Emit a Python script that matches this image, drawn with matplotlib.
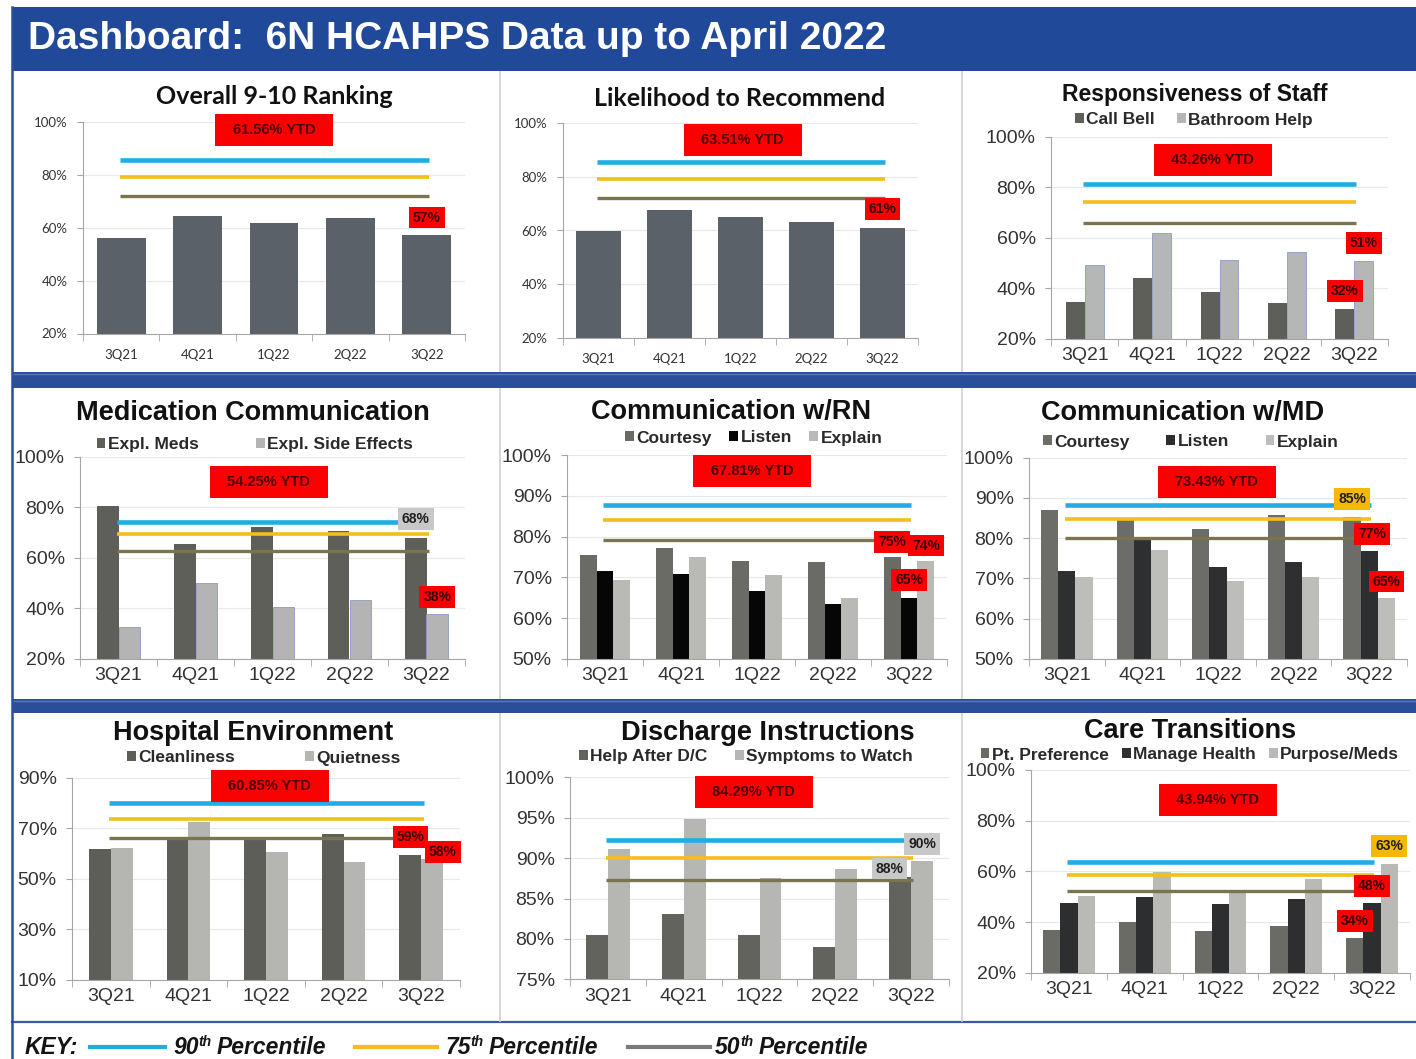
import matplotlib
matplotlib.use("Agg")
import numpy as np
import matplotlib.pyplot as plt
from matplotlib.patches import Patch, Rectangle
from matplotlib.lines import Line2D

W, H = 1416, 1059

quarters = ["3Q21", "4Q21", "1Q22", "2Q22", "3Q22"]
pct_names = ["90th", "75th", "50th"]

# values (percent), percentile targets as [90th, 75th, 50th]
overall = [55.9, 64.5, 61.8, 63.7, 57.1]
overall_pct = [85.6, 79.3, 71.8]
recommend = [59.8, 67.6, 65.1, 63.0, 61.0]
recommend_pct = [85.4, 79.3, 72.0]
call_bell = [34.4, 44.2, 38.5, 34.0, 31.8]
bathroom_help = [49.3, 61.7, 51.0, 54.2, 50.8]
responsive_pct = [81.4, 74.3, 65.7]
expl_meds = [80.5, 65.5, 72.2, 70.7, 68.0]
side_effects = [32.7, 50.0, 40.6, 43.1, 37.6]
med_pct = [74.3, 69.3, 62.8]
rn_courtesy = [75.6, 77.1, 73.9, 73.7, 75.0]
rn_listen = [71.6, 70.9, 66.7, 63.4, 65.0]
rn_explain = [69.3, 75.0, 70.6, 64.9, 74.0]
rn_pct = [87.7, 84.0, 79.3]
md_courtesy = [87.1, 84.5, 82.2, 85.7, 85.3]
md_listen = [71.8, 79.6, 72.7, 74.1, 76.8]
md_explain = [70.4, 77.0, 69.3, 70.4, 65.0]
md_pct = [88.2, 84.7, 80.0]
cleanliness = [62.0, 66.0, 65.6, 67.8, 59.4]
quietness = [62.2, 72.6, 60.7, 56.8, 58.0]
env_pct = [79.8, 73.8, 66.1]
help_after = [80.5, 83.1, 80.5, 79.0, 87.7]
symptoms = [91.1, 94.8, 87.5, 88.6, 89.6]
discharge_pct = [92.3, 90.0, 87.25]
pt_pref = [36.9, 40.0, 36.3, 38.4, 33.6]
manage_health = [47.5, 50.0, 47.1, 49.2, 47.6]
purpose_meds = [50.2, 59.9, 52.4, 56.9, 63.0]
care_pct = [63.7, 58.7, 52.1]

PCT_COLORS = ["#1fade4", "#f5be1b", "#7b744f"]
PCT_LW = [3.3, 2.6, 2.4]
BOX = {"red": "#fb0000", "grey": "#c8c8c8", "yellow": "#f6b800"}
SANS = ["Liberation Sans", "DejaVu Sans"]
CAL = ["Lato", "DejaVu Sans"]

fig = plt.figure(figsize=(W / 100, H / 100), dpi=100)
fig.patch.set_facecolor("white")


def fx(x):
    return x / W


def fy(y):
    return 1 - y / H


def panel(box, title, title_xy, series, colors, ylim, ystep, pct, ytd, ytd_pos,
          callouts, width, names=None, legend_xy=None, colspace=1.0,
          small=False, title_size=19.5, edges=None):
    l, t, r, b = box
    ax = fig.add_axes([fx(l), fy(b), (r - l) / W, (b - t) / H])
    x = np.arange(len(quarters))
    n = len(series)
    offs = [(i - (n - 1) / 2) * width for i in range(n)]
    for i, vals in enumerate(series):
        ec = edges[i] if edges else "none"
        ax.bar(x + offs[i], np.array(vals) - ylim[0], width, bottom=ylim[0],
               color=colors[i], edgecolor=ec, linewidth=0.6, zorder=2,
               label=names[i] if names else None)
    for k, v in enumerate(pct):
        ax.hlines(v, -0.02, 4.03, color=PCT_COLORS[k], lw=PCT_LW[k], zorder=3)

    ax.set_xlim(-0.5, 4.5)
    ax.set_ylim(*ylim)
    yt = np.arange(ylim[0], ylim[1] + 0.1, ystep)
    ax.set_yticks(yt)
    fam = CAL if small else SANS
    fs = 9.5 if small else 14
    ax.set_yticklabels([f"{v:g}%" for v in yt], family=fam, fontsize=fs, color="#333333")
    ax.set_xticks(x)
    ax.set_xticklabels(quarters, family=fam, fontsize=fs, color="#333333")
    ax.set_xticks(np.arange(-0.5, 5, 1), minor=True)
    ax.tick_params(axis="x", which="major", length=0, pad=11 if small else 6)
    ax.tick_params(axis="x", which="minor", length=5, color="#a6a6a6")
    ax.tick_params(axis="y", length=4, color="#a6a6a6", pad=7)
    for s in ["top", "right"]:
        ax.spines[s].set_visible(False)
    for s in ["left", "bottom"]:
        ax.spines[s].set_color("#a6a6a6")
    ax.yaxis.grid(True, color="#e8e8e8", lw=0.8)
    ax.set_axisbelow(True)

    # YTD box
    bw, bh = 118 / (r - l), 32 / (b - t)
    ax.add_patch(Rectangle((ytd_pos[0] - bw / 2, ytd_pos[1] - bh / 2), bw, bh,
                           transform=ax.transAxes, facecolor=BOX["red"],
                           edgecolor="none", zorder=5, clip_on=False))
    ax.text(ytd_pos[0], ytd_pos[1], ytd, transform=ax.transAxes, ha="center",
            va="center", family=SANS, fontsize=10.5, fontweight="bold",
            color="#4a0000", zorder=6)

    # last-quarter callouts
    for idx, dx, dy, c in callouts:
        v = series[idx][-1]
        ax.text(4 + offs[idx] + dx, v + dy, f"{v:.0f}%", ha="center", va="center",
                family=SANS, fontsize=10, fontweight="bold",
                color="#3a0000" if c == "red" else "#202020", zorder=7,
                bbox=dict(boxstyle="square,pad=0.28", fc=BOX[c], ec="none"))

    fig.text(fx(title_xy[0]), fy(title_xy[1]), title, ha="center", va="center",
             family=CAL if small else SANS, fontsize=title_size, fontweight="bold",
             color="#111111")
    if names:
        handles = [Patch(facecolor=colors[i], edgecolor="none") for i in range(n)]
        ax.legend(handles, names, loc="center", ncol=n,
                  bbox_to_anchor=(fx(legend_xy[0]), fy(legend_xy[1])),
                  bbox_transform=fig.transFigure, frameon=False,
                  prop={"family": SANS, "size": 12.5, "weight": "bold"},
                  handlelength=0.5, handleheight=0.5, handletextpad=0.15,
                  columnspacing=colspace, borderpad=0, labelcolor="#2a2a2a")
    return ax


# ---- frame decoration ----
fig.add_artist(Rectangle((fx(12), fy(71)), 1 - fx(12), (71 - 7) / H,
                         transform=fig.transFigure, fc="#21499a", ec="none"))
fig.text(fx(28), fy(39), "Dashboard:  6N HCAHPS Data up to April 2022", ha="left",
         va="center", family=SANS, fontsize=28, fontweight="bold", color="white")
for y0, y1 in [(372, 388), (699, 713)]:
    fig.add_artist(Rectangle((fx(12), fy(y1)), 1 - fx(12), (y1 - y0) / H,
                             transform=fig.transFigure, fc="#2a4f98", ec="none"))
    fig.add_artist(Line2D([fx(12), 1], [fy(y0 + 2), fy(y0 + 2)], color="#5a78b8", lw=1))
fig.add_artist(Line2D([fx(12), 1], [fy(1022), fy(1022)], color="#3c5aa0", lw=1.6))
fig.add_artist(Line2D([fx(12), fx(12)], [fy(7), 0], color="#2a4f98", lw=1.8))
for xs in [500, 962]:
    for y0, y1 in [(72, 371), (389, 698), (714, 1021)]:
        fig.add_artist(Line2D([fx(xs), fx(xs)], [fy(y0), fy(y1)], color="#cfcfcf", lw=1.2))

# ---- row 1 ----
panel((83, 121.7, 465, 333.5), "Overall 9-10 Ranking", (274, 96), [overall],
      ["#5b6169"], (20, 100), 20, overall_pct, "61.56% YTD", (0.5, 0.96),
      [(0, 0, 6.7, "red")], 0.64, small=True, title_size=18)
panel((563, 123.3, 918, 337.7), "Likelihood to Recommend", (740, 98), [recommend],
      ["#5b6169"], (20, 100), 20, recommend_pct, "63.51% YTD", (0.506, 0.92),
      [(0, 0, 7.0, "red")], 0.63, small=True, title_size=18)
panel((1051, 136.7, 1388, 338.7), "Responsiveness of Staff", (1195, 95),
      [call_bell, bathroom_help], ["#5f5f5a", "#b5b6b6"], (20, 100), 20,
      responsive_pct, "43.26% YTD", (0.48, 0.885),
      [(1, 0, 7.1, "red"), (0, 0, 7.1, "red")], 0.28,
      names=["Call Bell", "Bathroom Help"], legend_xy=(1194, 120), colspace=1.26,
      title_size=16.5, edges=["none", "#8a9cc4"])

# ---- row 2 ----
panel((80, 456.7, 465, 658.7), "Medication Communication", (253, 413),
      [expl_meds, side_effects], ["#5f5f5a", "#b4b4b4"], (20, 100), 20, med_pct,
      "54.25% YTD", (0.49, 0.875), [(0, 0, 7.3, "grey"), (1, 0, 6.8, "red")], 0.28,
      names=["Expl. Meds", "Expl. Side Effects"], legend_xy=(255, 445), colspace=3.3,
      edges=["none", "#8a9cc4"])
panel((567, 455.3, 947, 658.7), "Communication w/RN", (731, 412),
      [rn_courtesy, rn_listen, rn_explain], ["#6b6b66", "#060606", "#b9b9b5"],
      (50, 100), 10, rn_pct, "67.81% YTD", (0.487, 0.924),
      [(0, 0, 3.7, "red"), (2, 0, 3.8, "red"), (1, 0, 4.3, "red")], 0.223,
      names=["Courtesy", "Listen", "Explain"], legend_xy=(754, 438), colspace=1.0)
panel((1029, 457.7, 1407, 658.7), "Communication w/MD", (1183, 413),
      [md_courtesy, md_listen, md_explain], ["#6c6c68", "#2d2f31", "#bdbdb9"],
      (50, 100), 10, md_pct, "73.43% YTD", (0.497, 0.88),
      [(0, 0, 4.4, "yellow"), (1, 0.04, 4.2, "red"), (2, 0, 4.2, "red")], 0.227,
      names=["Courtesy", "Listen", "Explain"], legend_xy=(1191, 442), colspace=2.1)

# ---- row 3 ----
panel((72, 777.7, 460, 980), "Hospital Environment", (253, 733),
      [cleanliness, quietness], ["#5e5e59", "#b5b5b2"], (10, 90), 20, env_pct,
      "60.85% YTD", (0.51, 0.96), [(0, 0, 7.2, "red"), (1, 0.14, 2.7, "red")], 0.28,
      names=["Cleanliness", "Quietness"], legend_xy=(264, 758), colspace=4.0)
panel((570, 777.3, 949, 979.3), "Discharge Instructions", (768, 733),
      [help_after, symptoms], ["#63635e", "#b6b6b3"], (75, 100), 5, discharge_pct,
      "84.29% YTD", (0.485, 0.927), [(1, 0, 2.1, "grey"), (0, -0.14, 1.0, "grey")], 0.29,
      names=["Help After D/C", "Symptoms to Watch"], legend_xy=(746, 757), colspace=1.6)
panel((1031, 770, 1410, 972.7), "Care Transitions", (1190, 731),
      [pt_pref, manage_health, purpose_meds], ["#6b6b66", "#2c2e30", "#b9b9b5"],
      (20, 100), 20, care_pct, "43.94% YTD", (0.493, 0.852),
      [(2, 0, 7.0, "yellow"), (1, 0, 6.7, "red"), (0, 0, 6.9, "red")], 0.227,
      names=["Pt. Preference", "Manage Health", "Purpose/Meds"], legend_xy=(1190, 755),
      colspace=0.75)

# ---- key ----
renderer = fig.canvas.get_renderer()
ky = 1047
kstyle = dict(family=SANS, fontweight="bold", style="italic", color="#151515", va="center")
fig.text(fx(25), fy(ky), "KEY:", fontsize=16.5, **kstyle)
key_lines = [(90, 165), (355, 437), (628, 710)]
key_text_x = [173, 445, 715]
key_colors = ["#1fade4", "#f5be1b", "#7a7a7a"]
for (x0, x1), tx, c, name in zip(key_lines, key_text_x, key_colors, pct_names):
    fig.add_artist(Line2D([fx(x0), fx(x1)], [fy(ky), fy(ky)], color=c, lw=3))
    xx = tx
    for piece, size, dy in [(name[:2], 16.5, 0), (name[2:], 10, -5), ("Percentile", 16.5, 0)]:
        t = fig.text(fx(xx), fy(ky + dy), piece, fontsize=size, ha="left", **kstyle)
        xx += t.get_window_extent(renderer).width + (5 if piece == name[2:] else 0)

fig.savefig("out.png", dpi=100)
